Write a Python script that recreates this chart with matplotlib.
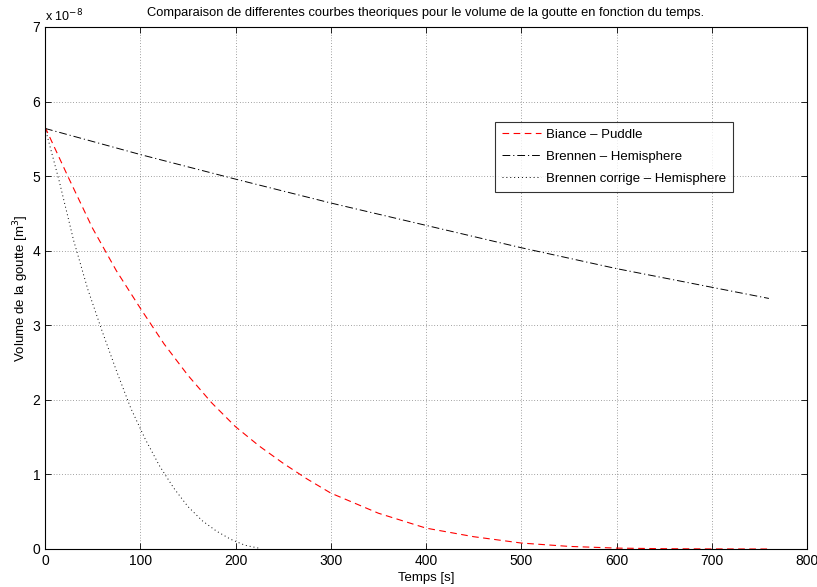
import numpy as np
import matplotlib
matplotlib.use("Agg")
import matplotlib.pyplot as plt

plt.rcParams['font.family'] = ['Liberation Sans', 'DejaVu Sans']

# Biance - Puddle (volume en 1e-8 m^3)
t_biance = [0, 25, 50, 75, 100, 125, 150, 175, 200, 225, 250, 275, 300, 350, 400,
            450, 500, 550, 600, 650, 700, 760]
v_biance = [5.66, 4.97, 4.30, 3.73, 3.23, 2.75, 2.33, 1.96, 1.64, 1.38, 1.15, 0.94,
            0.75, 0.48, 0.28, 0.165, 0.08, 0.035, 0.012, 0.004, 0.001, 0.0]

# Brennen - Hemisphere
t_brennen = [0, 100, 200, 300, 400, 500, 600, 700, 760]
v_brennen = [5.64, 5.29, 4.96, 4.64, 4.34, 4.04, 3.76, 3.51, 3.36]

# Brennen corrige - Hemisphere
t_corr = [0, 15, 30, 45, 60, 75, 90, 105, 120, 135, 150, 165, 180, 195, 210, 225]
v_corr = [5.65, 4.93, 4.14, 3.48, 2.92, 2.39, 1.89, 1.48, 1.12, 0.82, 0.57,
          0.38, 0.24, 0.13, 0.05, 0.01]

fig = plt.figure(figsize=(8.17, 5.87), dpi=100)
ax = fig.add_axes([45/817, 38/587, 762/817, 522/587])

scale = 1e-8
ax.plot(t_biance, np.array(v_biance)*scale, color='red', linestyle=(0, (6, 4)),
        linewidth=0.8, label='Biance \u2013 Puddle')
ax.plot(t_brennen, np.array(v_brennen)*scale, color='black', linestyle=(0, (8, 3, 1.2, 3)),
        linewidth=0.7, label='Brennen \u2013 Hemisphere')
ax.plot(t_corr, np.array(v_corr)*scale, color='black', linestyle=(0, (1, 3)),
        linewidth=0.7, label='Brennen corrige \u2013 Hemisphere')

ax.set_xlim(0, 800)
ax.set_ylim(0, 7e-8)
ax.set_xticks(np.arange(0, 801, 100))
ax.set_yticks(np.arange(0, 8)*scale)
ax.set_yticklabels([str(i) for i in range(8)])
ax.tick_params(direction='in', top=True, right=True, labelsize=10, length=4, width=0.6)
ax.grid(True, linestyle=(0, (1, 3)), color='black', linewidth=0.5, alpha=0.7)
for s in ax.spines.values():
    s.set_linewidth(0.8)

ax.text(0, 1.005, r'x 10$^{-8}$', transform=ax.transAxes, fontsize=9,
        ha='left', va='bottom')
ax.set_title('Comparaison de differentes courbes theoriques pour le volume de la goutte en fonction du temps.',
             fontsize=9.3, pad=8)
ax.set_xlabel('Temps [s]', fontsize=9.5, labelpad=3)
ax.set_ylabel('Volume de la goutte [m$^3$]', fontsize=9.5, labelpad=1)

leg = ax.legend(loc='upper right', bbox_to_anchor=(0.903, 0.818), fontsize=9.5,
                frameon=True, fancybox=False, edgecolor='black', handlelength=3.0,
                borderpad=0.5, labelspacing=0.75, handletextpad=0.4,
                borderaxespad=0)
leg.get_frame().set_linewidth(0.8)

fig.savefig('out.png', dpi=100)
